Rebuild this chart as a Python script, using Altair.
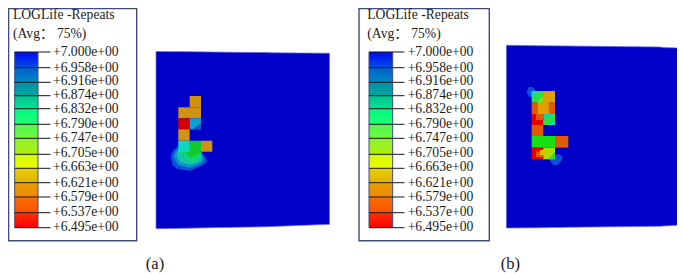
import altair as alt
import pandas as pd

FONT = "Liberation Serif, Noto Sans CJK SC"

title_text = "LOGLife -Repeats"
avg_text = "(Avg： 75%)"
level_labels = ["+7.000e+00", "+6.958e+00", "+6.916e+00", "+6.874e+00", "+6.832e+00", "+6.790e+00",
                "+6.747e+00", "+6.705e+00", "+6.663e+00", "+6.621e+00", "+6.579e+00", "+6.537e+00", "+6.495e+00"]
label_y = [51.7, 67.7, 81.4, 95.2, 108.9, 123.7, 138, 153.4, 167, 183.1, 196.9, 211.7, 226.7]
tick_y = [52, 67.7, 82.3, 95.7, 108.7, 124.3, 138.3, 154.3, 168.3, 182.7, 197, 212.7, 227.7]
seg_top = ["#0008f8", "#0060d0", "#0090a8", "#00c090", "#00f880", "#50f850",
           "#90f030", "#d8f800", "#e8d000", "#e8a000", "#f87000", "#ff3000"]
seg_bot = ["#0050e0", "#0088c0", "#00a8a0", "#00e890", "#20ff70", "#70f840",
           "#b0f010", "#e8ff00", "#e0b000", "#f08800", "#ff5000", "#ff0000"]

legend_left = dict(fx=8.6, fx2=136.7, bx=14.7, bx2=38, tx=50.5, lx=53, hx=13)
legend_right = dict(fx=359, fx2=489.3, bx=369, bx2=392.7, tx=404.5, lx=407.7, hx=367.3)
frame_top, frame_bottom = 8.6, 240.7

ORANGE = "#cf9212"
RED = "#d20000"
BLUE = "#0000c8"
ORANGE_B = "#e2a000"
DEEP = "#e25a00"
GREEN_B = "#18e018"

plate_a = dict(x=[156, 187, 210, 267, 272, 329.5], top=[51.5, 51.7, 52, 52.6, 52.8, 53.3],
               bot=[228.7, 228.2, 227.7, 226.7, 226.5, 224.3])
plate_b = dict(x=[506.4, 536.7, 566.7, 660, 663.3, 682.3], top=[45.3, 45.7, 46, 47, 47.6, 48],
               bot=[228, 227.8, 227.3, 226.2, 226, 225])

blobs = [
    ("#0a50d8", [171, 173, 178, 190, 201, 206, 207], [155, 151, 146, 146, 152, 158, 161], [158, 166, 169, 171, 166, 163, 161]),
    ("#0c90c8", [174, 178, 190, 201, 204], [155, 148, 146, 152, 159], [158, 165, 168, 164, 160]),
    ("#10c8a8", [177, 180, 190, 201, 202], [153, 148, 144, 152, 158], [157, 162, 165, 161, 158]),
    ("#10d870", [182, 186, 191, 201], [150, 146, 144, 152], [153, 157, 162, 156]),
    ("#10c830", [185, 190, 201], [150, 144, 152], [152, 158, 153]),
    ("#0a50d8", [526.7, 529, 532, 535], [91, 87, 87, 90], [92, 96.7, 97, 91]),
    ("#0a50d8", [549, 553, 558, 562.3], [158, 155, 154, 156], [159, 165, 165, 159]),
]

cells = [
    (189.7, 201, 96, 107.3, ORANGE), (178.3, 201, 107.3, 118.3, ORANGE),
    (178.3, 189.7, 118.3, 129.3, RED), (189.7, 201, 118.3, 129.3, "#10a0d0"),
    (178.3, 189.7, 129.3, 140.7, ORANGE), (178.3, 189.7, 140.7, 151.7, "#10d8c0"),
    (189.7, 201, 140.7, 151.7, "#10c830"), (201, 212.3, 140.7, 151.7, ORANGE),
    (531.7, 543.3, 91, 102.7, "#30e040"), (543.3, 555, 91, 102.7, ORANGE_B),
    (531.7, 543.3, 102.7, 114, DEEP), (543.3, 555, 102.7, 114, DEEP),
    (531.7, 543.3, 114, 125, "#e80000"), (543.3, 555, 114, 125, "#10d8a0"),
    (531.7, 543.3, 125, 136, DEEP), (531.7, 555, 136, 147.7, GREEN_B),
    (555, 568.3, 136, 147.7, DEEP), (531.7, 543.3, 147.7, 159.3, "#e80000"),
    (543.3, 555, 147.7, 159.3, "#a8e000"),
    (536, 543.3, 114, 120, DEEP), (536, 543.3, 102.7, 106, DEEP),
    (538, 548.5, 102.7, 114, ORANGE_B), (543.3, 548.5, 91, 114, ORANGE_B),
    (536, 543.3, 151.5, 157, DEEP), (540, 546, 150, 155, "#e0c000"),
]

wedges = [
    ("#0a58d0", [193, 201], [129.3, 123], [129.3, 129.3]),
    ("#10d8c0", [531.7, 538], [91, 91], [98, 91]),
    ("#90e020", [537, 543.3], [102.7, 96], [102.7, 102.7]),
    ("#30e040", [543.3, 555], [120, 114], [125, 125]),
    ("#10d8d0", [548, 555], [125, 120], [125, 125]),
    ("#30d840", [548, 555], [159.3, 152], [159.3, 159.3]),
]

x_scale = alt.Scale(domain=[8, 677], nice=False, zero=False)
y_scale = alt.Scale(domain=[274, 8], nice=False, zero=False)
X = alt.X("x:Q", scale=x_scale, axis=None)
Y = alt.Y("y:Q", scale=y_scale, axis=None)


def long_shapes(shapes, prefix):
    rows = []
    for i, (color, xs, tops, bots) in enumerate(shapes):
        for a, t, b in zip(xs, tops, bots):
            rows.append(dict(shape=f"{prefix}{i}", fill=color, x=a, y=t, y2=b))
    return pd.DataFrame(rows)


def area_layer(df, **mark):
    return alt.Chart(df).mark_area(orient="vertical", **mark).encode(
        x=X, y=Y, y2="y2:Q", detail="shape:N", color=alt.Color("fill:N", scale=None))


layers = []

plates = [(BLUE, plate_a["x"], plate_a["top"], plate_a["bot"]), (BLUE, plate_b["x"], plate_b["top"], plate_b["bot"])]
layers.append(area_layer(long_shapes(plates, "p"), stroke="#6a6ae8", strokeWidth=0.7))
layers.append(area_layer(long_shapes(blobs, "b")))

cells_df = pd.DataFrame(cells, columns=["x", "x2", "y", "y2", "fill"])
layers.append(alt.Chart(cells_df).mark_rect().encode(
    x=X, x2="x2:Q", y=Y, y2="y2:Q", color=alt.Color("fill:N", scale=None)))
layers.append(area_layer(long_shapes(wedges, "w")))

for leg in (legend_left, legend_right):
    frame = pd.DataFrame([dict(x=leg["fx"], x2=leg["fx2"], y=frame_top, y2=frame_bottom)])
    layers.append(alt.Chart(frame).mark_rect(filled=False, stroke="#3f4c7c", strokeWidth=1.4).encode(
        x=X, x2="x2:Q", y=Y, y2="y2:Q"))

for i in range(12):
    bar = pd.DataFrame([dict(x=leg["bx"], x2=leg["bx2"], y=tick_y[i], y2=tick_y[i + 1])
                        for leg in (legend_left, legend_right)])
    grad = alt.LinearGradient(gradient="linear", x1=0, x2=0, y1=0, y2=1,
                              stops=[alt.GradientStop(color=seg_top[i], offset=0),
                                     alt.GradientStop(color=seg_bot[i], offset=1)])
    layers.append(alt.Chart(bar).mark_rect(color=grad).encode(x=X, x2="x2:Q", y=Y, y2="y2:Q"))

sides = pd.DataFrame([dict(x=leg[k], y=tick_y[0], y2=tick_y[-1]) for leg in (legend_left, legend_right)
                      for k in ("bx", "bx2")])
layers.append(alt.Chart(sides).mark_rule(color="#3f4c7c", strokeWidth=1).encode(x=X, y=Y, y2="y2:Q"))

ticks = pd.DataFrame([dict(x=leg["bx"], x2=leg["tx"], y=t, tick=j) for leg in (legend_left, legend_right)
                      for j, t in enumerate(tick_y)])
layers.append(alt.Chart(ticks).mark_rule(color="#141414", strokeWidth=1).encode(x=X, x2="x2:Q", y=Y))

labels = pd.DataFrame([dict(x=leg["lx"], y=y, t=t) for leg in (legend_left, legend_right)
                       for y, t in zip(label_y, level_labels)])
layers.append(alt.Chart(labels).mark_text(font=FONT, fontSize=13.6, align="left", baseline="middle", color="#1a1a1a").encode(
    x=X, y=Y, text="t:N"))
heads = pd.DataFrame([dict(x=leg["hx"], y=y, t=t) for leg in (legend_left, legend_right)
                      for y, t in ((14.7, title_text), (33.5, avg_text))])
layers.append(alt.Chart(heads).mark_text(font=FONT, fontSize=13.6, align="left", baseline="middle", color="#1a1a1a").encode(
    x=X, y=Y, text="t:N"))
caps = pd.DataFrame([dict(x=155, y=264, t="(a)"), dict(x=510.3, y=264, t="(b)")])
layers.append(alt.Chart(caps).mark_text(font=FONT, fontSize=16.5, align="center", baseline="middle", color="#1a1a1a").encode(
    x=X, y=Y, text="t:N"))

chart = alt.layer(*layers).properties(
    width=669, height=266, padding=0, autosize=alt.AutoSizeParams(type="none"), background="white"
).configure_view(stroke=None)

chart.save("out.html", embed_options={"renderer": "svg", "actions": False})
